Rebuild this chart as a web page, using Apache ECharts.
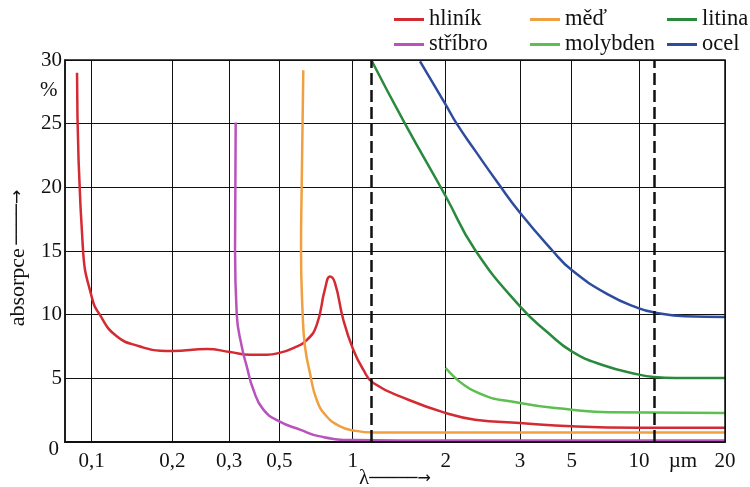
<!doctype html>
<html lang="cs">
  <head>
    <meta charset="utf-8">
    <title>Absorpce kovů</title>
    <script src="https://cdn.jsdelivr.net/npm/echarts@6.0.0/dist/echarts.min.js"></script>
    <style>
      html, body {
        width: 100%;
        height: 100%;
        margin: 0;
        background: #fff;
      }

      #chart {
        width: 750px;
        height: 487px;
      }
    </style>
  </head>
  <body>
    <div id="chart"></div>
    <script>
      // hand-drawn wavelength axis: ticks are not evenly spaced, so each tick gets its own slot
      const tickWl = [0.1, 0.2, 0.3, 0.5, 1, 2, 3, 5, 10, 20];
      const tickLabels = ['0,1', '0,2', '0,3', '0,5', '1', '2', '3', '5', '10', '20'];
      const tickSlot = [26.7, 107.3, 164, 214.3, 287.7, 380.7, 455, 506.7, 574, 660];
      const slotMax = 660;
      const unitWl = 15.1;
      const unitLabel = 'µm';
      const dashedWl = [1.2, 11.8];

      // [wavelength µm, absorpce %]
      const hlinik = [[0.0818, 29.0], [0.0892, 15.1], [0.1, 11.4], [0.110, 10.0], [0.131, 8.3], [0.160, 7.5],
        [0.185, 7.17], [0.2, 7.15], [0.261, 7.3], [0.304, 7.07], [0.384, 6.86], [0.45, 6.86], [0.5, 7.0],
        [0.595, 7.38], [0.687, 8.0], [0.755, 9.2], [0.811, 12.0], [0.845, 13.0], [0.879, 12.5], [0.936, 9.6],
        [1.006, 7.25], [1.114, 5.68], [1.222, 4.63], [1.598, 3.32], [2, 2.28], [2.394, 1.75], [3, 1.49],
        [5, 1.23], [10, 1.12], [20, 1.12]];
      const med = [[0.6635, 29.2], [0.6526, 20.1], [0.648, 15.1], [0.6594, 10.0], [0.675, 7.5], [0.709, 5.4],
        [0.755, 3.3], [0.823, 2.0], [0.914, 1.23], [1.006, 0.91], [1.222, 0.75], [2, 0.75], [20, 0.75]];
      const litina = [[1.2, 30], [1.562, 25.0], [2, 19.3], [2.394, 15.1], [3, 10.65],
        [4.095, 8.56], [5, 7.12], [7.23, 6.07], [10, 5.29], [11.78, 5.1], [14.19, 5.03], [20, 5.03]];
      const stribro = [[0.3266, 25.1], [0.324, 15.1], [0.3308, 10.0], [0.3507, 7.5], [0.3706, 5.94],
        [0.397, 4.1], [0.4367, 2.54], [0.5, 1.62], [0.641, 0.97], [0.777, 0.44], [1.006, 0.15], [2, 0.12], [20, 0.12]];
      const molybden = [[2, 5.81], [2.394, 3.97], [3, 3.06], [5, 2.54], [7.72, 2.33], [20, 2.28]];
      const ocel = [[1.724, 29.9], [2, 26.5], [2.148, 25.0], [2.394, 22.9], [2.708, 20.3], [3, 18.0], [4.226, 15.1],
        [5, 13.5], [7.72, 11.57], [10, 10.5], [11.78, 10.18], [15.35, 9.87], [20, 9.82]];

      function toSlot(w) {
        let i = 0;
        while (i < tickWl.length - 2 && w > tickWl[i + 1]) i++;
        const t = (w - tickWl[i]) / (tickWl[i + 1] - tickWl[i]);
        return tickSlot[i] + t * (tickSlot[i + 1] - tickSlot[i]);
      }

      const labelBySlot = {};
      tickSlot.forEach((s, i) => { labelBySlot[s.toFixed(1)] = tickLabels[i]; });
      const unitSlot = toSlot(unitWl);
      labelBySlot[unitSlot.toFixed(1)] = unitLabel;

      const serif = 'Liberation Serif';

      function curve(name, color, pts, extra) {
        return Object.assign({
          name: name,
          type: 'line',
          data: pts.map(p => [toSlot(p[0]), p[1]]),
          smooth: 0.5,
          showSymbol: false,
          symbol: 'none',
          animation: false,
          lineStyle: { color: color, width: 2.5 },
          itemStyle: { color: color },
          z: 3
        }, extra || {});
      }

      let chart = echarts.init(document.getElementById('chart'), null, { renderer: 'canvas' });

      const legendBase = {
        orient: 'vertical',
        top: 3,
        itemWidth: 30,
        itemHeight: 3,
        itemGap: 2,
        icon: 'rect',
        textStyle: { fontFamily: serif, fontSize: 22.5, color: '#111' },
        selectedMode: false
      };

      let option = {
        backgroundColor: '#fff',
        animation: false,
        grid: {
          left: 65,
          right: 25,
          top: 60,
          bottom: 45,
          outerBoundsMode: 'none',
          containLabel: false,
          show: true,
          borderColor: '#111',
          borderWidth: 1.5,
          z: 4
        },
        legend: [
          Object.assign({}, legendBase, { left: 389, data: ['hliník', 'stříbro'] }),
          Object.assign({}, legendBase, { left: 525, data: ['měď', 'molybden'] }),
          Object.assign({}, legendBase, { left: 662, data: ['litina', 'ocel'] })
        ],
        graphic: [
          {
            type: 'text',
            left: 40,
            top: 80,
            style: { text: '%', fontFamily: serif, fontSize: 21, fill: '#111' }
          }
        ],
        xAxis: {
          type: 'value',
          min: 0,
          max: slotMax,
          name: '{l|λ}{a|─────→}',
          nameLocation: 'middle',
          nameGap: 26,
          nameMoveOverlap: false,
          nameTextStyle: {
            rich: {
              l: { fontFamily: serif, fontSize: 21, color: '#111' },
              a: { fontFamily: 'DejaVu Sans', fontSize: 16, color: '#111' }
            }
          },
          axisLine: { show: true, lineStyle: { color: '#111', width: 2 } },
          axisTick: { show: false, customValues: tickSlot },
          splitLine: { show: true, lineStyle: { color: '#111', width: 1 } },
          axisLabel: {
            customValues: tickSlot.concat([unitSlot]),
            formatter: v => labelBySlot[v.toFixed(1)] || '',
            fontFamily: serif,
            fontSize: 21,
            color: '#111',
            margin: 9
          }
        },
        yAxis: {
          type: 'value',
          min: 0,
          max: 30,
          interval: 5,
          name: '{t|absorpce} {a|────→}',
          nameLocation: 'middle',
          nameGap: 36,
          nameMoveOverlap: false,
          nameRotate: 90,
          nameTextStyle: {
            padding: [0, 14, 0, 0],
            rich: {
              t: { fontFamily: serif, fontSize: 22, color: '#111' },
              a: { fontFamily: 'DejaVu Sans', fontSize: 17, color: '#111' }
            }
          },
          axisLine: { show: true, lineStyle: { color: '#111', width: 1.5 } },
          axisTick: { show: false },
          splitLine: { show: true, lineStyle: { color: '#111', width: 1.2 } },
          axisLabel: {
            fontFamily: serif,
            fontSize: 21,
            color: '#111',
            margin: 3,
            formatter: v => (v === 0 ? '{z|0}' : String(v)),
            rich: {
              z: { fontFamily: serif, fontSize: 21, color: '#111', padding: [14, 3, 0, 0] }
            }
          }
        },
        series: [
          curve('hliník', '#d42a32', hlinik, {
            markLine: {
              silent: true,
              symbol: 'none',
              label: { show: false },
              animation: false,
              lineStyle: { color: '#111', type: [12, 5], width: 2.5 },
              data: dashedWl.map(w => ({ xAxis: toSlot(w) }))
            }
          }),
          curve('stříbro', '#b852bc', stribro),
          curve('měď', '#f0a040', med),
          curve('molybden', '#5cbf50', molybden),
          curve('litina', '#2a8a3c', litina),
          curve('ocel', '#2e4c9e', ocel)
        ]
      };

      chart.setOption(option);

      window.addEventListener('resize', () => {
        chart.resize();
      });
    </script>
  </body>
</html>
